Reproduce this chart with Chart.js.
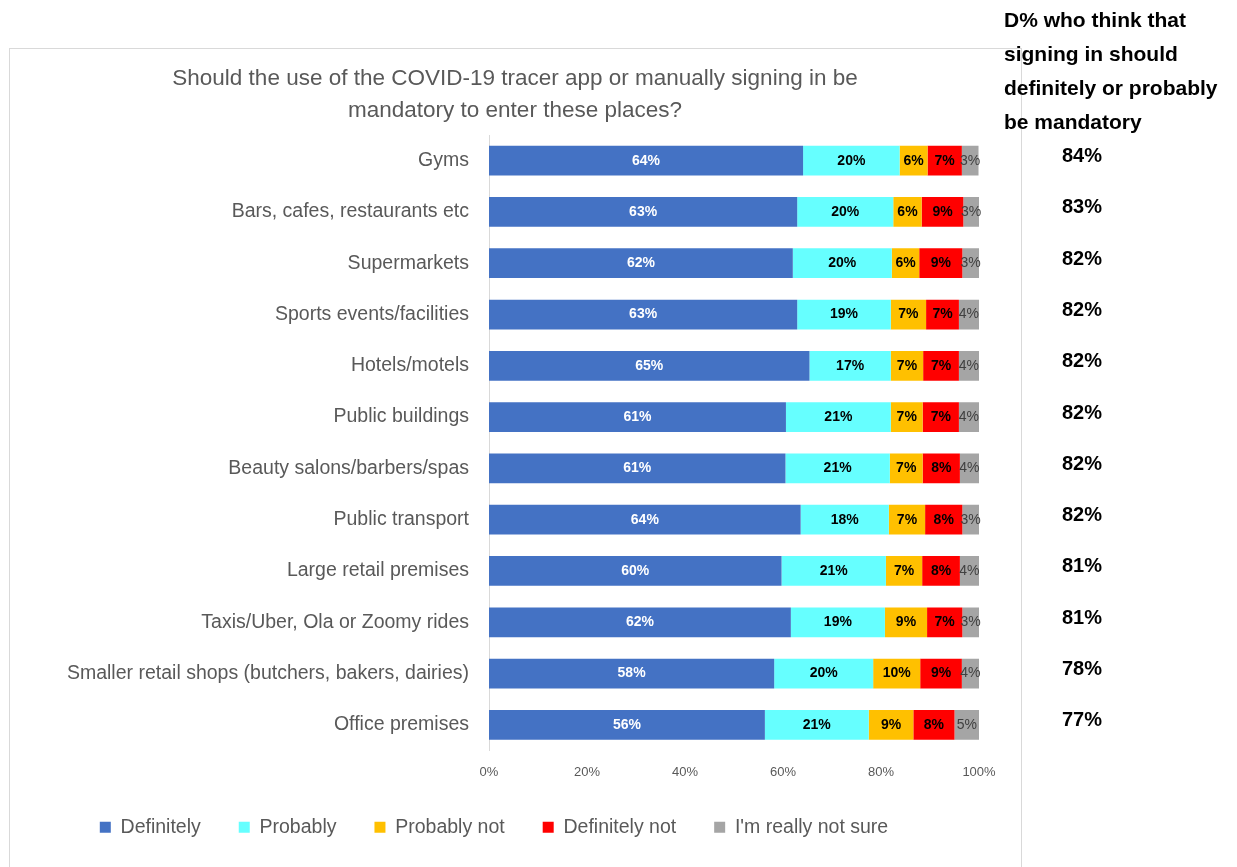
<!DOCTYPE html>
<html>
<head>
<meta charset="utf-8">
<title>COVID-19 tracer app</title>
<script src="https://cdn.jsdelivr.net/npm/chart.js@4"></script>
<style>
  html, body { margin: 0; padding: 0; background: #ffffff; }
  #wrap { position: relative; width: 1237px; height: 867px; }
</style>
</head>
<body>
<div id="wrap"><canvas id="chart" width="1237" height="867"></canvas></div>
<script>
// categories, top to bottom
var places = [
  "Gyms",
  "Bars, cafes, restaurants etc",
  "Supermarkets",
  "Sports events/facilities",
  "Hotels/motels",
  "Public buildings",
  "Beauty salons/barbers/spas",
  "Public transport",
  "Large retail premises",
  "Taxis/Uber, Ola or Zoomy rides",
  "Smaller retail shops (butchers, bakers, dairies)",
  "Office premises"
];

// percentages per answer
var definitely    = [64.1, 62.9, 62.0, 62.9, 65.4, 60.6, 60.5, 63.6, 59.7, 61.6, 58.2, 56.3];
var probably      = [19.7, 19.6, 20.2, 19.1, 16.6, 21.4, 21.3, 18.0, 21.3, 19.2, 20.2, 21.2];
var probablyNot   = [5.7, 5.8, 5.6, 7.2, 6.6, 6.5, 6.7, 7.4, 7.4, 8.6, 9.6, 9.1];
var definitelyNot = [7.0, 8.5, 8.8, 6.7, 7.3, 7.4, 7.6, 7.6, 7.7, 7.2, 8.5, 8.4];
var notSure       = [3.4, 3.2, 3.4, 4.1, 4.1, 4.1, 3.9, 3.4, 3.9, 3.4, 3.5, 5.0];

// right hand column: definitely + probably
var mandatoryPct = [84, 83, 82, 82, 82, 82, 82, 82, 81, 81, 78, 77];

var xTicks = [0, 20, 40, 60, 80, 100];

var titleLines = [
  "Should the use of the COVID-19 tracer app or manually signing in be",
  "mandatory to enter these places?"
];
var sideHeader = [
  "D% who think that",
  "signing in should",
  "definitely or probably",
  "be mandatory"
];

var FONT = "'Liberation Sans', Arial, sans-serif";
var GREY = "#595959";

// white page, chart frame, title and the side column
var extras = {
  id: 'extras',
  beforeDraw: function(chart) {
    var ctx = chart.ctx;
    ctx.save();
    ctx.fillStyle = '#ffffff';
    ctx.fillRect(0, 0, chart.width, chart.height);
    ctx.strokeStyle = '#d9d9d9';
    ctx.lineWidth = 1;
    ctx.strokeRect(9.5, 48.5, 1012, 900);
    ctx.restore();
  },
  afterDraw: function(chart) {
    var ctx = chart.ctx;
    ctx.save();
    ctx.fillStyle = GREY;
    ctx.font = "22.5px " + FONT;
    ctx.textAlign = 'center';
    ctx.textBaseline = 'middle';
    ctx.fillText(titleLines[0], 515, 79);
    ctx.fillText(titleLines[1], 515, 111);

    ctx.fillStyle = '#000000';
    ctx.font = "bold 21px " + FONT;
    ctx.textAlign = 'left';
    for (var i = 0; i < sideHeader.length; i++) {
      ctx.fillText(sideHeader[i], 1004, 21 + i * 34);
    }
    var yScale = chart.scales.y;
    ctx.font = "bold 20px " + FONT;
    ctx.textAlign = 'center';
    for (var j = 0; j < mandatoryPct.length; j++) {
      ctx.fillText(mandatoryPct[j] + '%', 1082, yScale.getPixelForValue(j) - 4);
    }
    ctx.restore();
  }
};

// percentage labels inside the bar segments
var segLabels = {
  id: 'segLabels',
  afterDatasetsDraw: function(chart) {
    var ctx = chart.ctx;
    ctx.save();
    ctx.textAlign = 'center';
    ctx.textBaseline = 'middle';
    chart.data.datasets.forEach(function(ds, di) {
      var meta = chart.getDatasetMeta(di);
      meta.data.forEach(function(bar, i) {
        var v = ds.data[i];
        ctx.fillStyle = ds.labelColor;
        ctx.font = (ds.labelBold ? "bold " : "") + "14px " + FONT;
        ctx.fillText(Math.round(v) + '%', (bar.x + bar.base) / 2, bar.y);
      });
    });
    ctx.restore();
  }
};

function series(label, data, color, labelColor, bold) {
  return {
    label: label,
    data: data,
    backgroundColor: color,
    borderWidth: 0,
    barPercentage: 0.58,
    categoryPercentage: 1,
    labelColor: labelColor,
    labelBold: bold
  };
}

var ctx = document.getElementById('chart').getContext('2d');
var chart = new Chart(ctx, {
  type: 'bar',
  data: {
    labels: places,
    datasets: [
      series('Definitely', definitely, '#4472C4', '#ffffff', true),
      series('Probably', probably, '#66FFFF', '#000000', true),
      series('Probably not', probablyNot, '#FFC000', '#000000', true),
      series('Definitely not', definitelyNot, '#FF0000', '#000000', true),
      series("I'm really not sure", notSure, '#A5A5A5', '#404040', false)
    ]
  },
  options: {
    indexAxis: 'y',
    responsive: false,
    animation: false,
    layout: { padding: { top: 135, left: 9, right: 258, bottom: 20 } },
    plugins: {
      title: { display: false },
      tooltip: { enabled: false },
      legend: {
        position: 'bottom',
        labels: {
          boxWidth: 11,
          boxHeight: 11,
          padding: 38,
          color: GREY,
          font: { family: FONT, size: 19.5 }
        }
      }
    },
    scales: {
      x: {
        stacked: true,
        min: 0,
        max: 100,
        afterFit: function(s) { s.height = 29; },
        afterBuildTicks: function(s) {
          s.ticks = xTicks.map(function(v) { return { value: v }; });
        },
        grid: { display: false, drawTicks: false },
        border: { display: false },
        ticks: {
          padding: 14,
          color: GREY,
          font: { family: FONT, size: 13 },
          callback: function(v) { return v + '%'; }
        }
      },
      y: {
        stacked: true,
        afterFit: function(s) { s.width = 480; },
        grid: { display: false, drawTicks: false },
        border: { display: true, color: '#d9d9d9' },
        ticks: {
          padding: 20,
          color: GREY,
          font: { family: FONT, size: 19.5 }
        }
      }
    }
  },
  plugins: [extras, segLabels]
});
</script>
</body>
</html>
